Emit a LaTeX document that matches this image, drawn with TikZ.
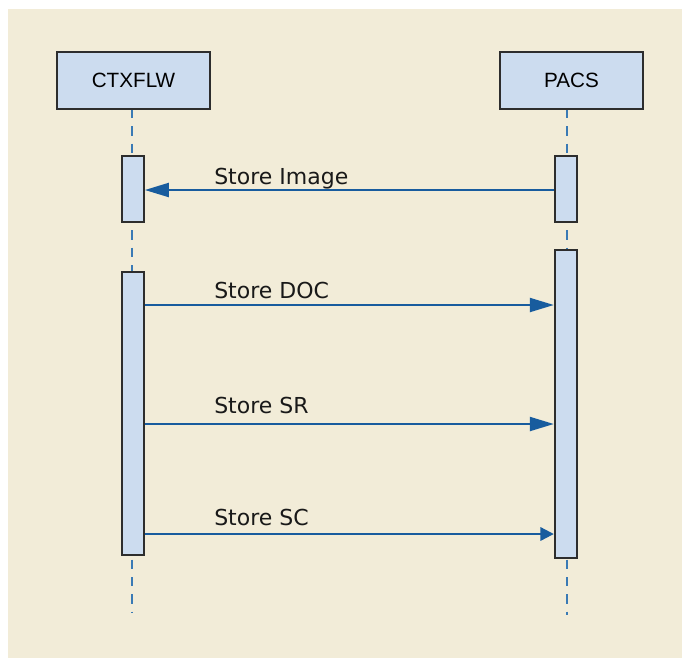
\documentclass[tikz,border=0pt]{standalone}
\usepackage{fontspec}
\setmainfont{DejaVu Sans}
\newfontfamily\boxfont{Liberation Sans}
\usetikzlibrary{arrows.meta}

\definecolor{bgbeige}{RGB}{242,236,216}
\definecolor{barblue}{RGB}{204,220,239}
\definecolor{msgblue}{RGB}{24,92,158}
\definecolor{lifeblue}{RGB}{58,122,181}
\definecolor{edgegray}{RGB}{45,45,45}

\tikzset{
	actor/.style={draw=edgegray, line width=1.5pt, fill=barblue, minimum height=42.75pt, inner sep=0pt, font=\boxfont\fontsize{15.5}{18}\selectfont},
	bar/.style={draw=edgegray, line width=1.3pt, fill=barblue, minimum width=16.5pt, inner sep=0pt},
	lifeline/.style={draw=lifeblue, line width=1.2pt, dash pattern=on 7pt off 6pt},
	msg/.style={draw=msgblue, line width=1.6pt, -{Triangle[length=18pt,width=10.5pt]}},
	msgsmall/.style={draw=msgblue, line width=1.6pt, -{Triangle[length=10pt,width=10pt]}},
	msglabel/.style={anchor=base west, inner sep=0pt, font=\fontsize{16.5}{19}\selectfont, text=black!90}
}

\begin{document}
\begin{tikzpicture}[x=0.75pt,y=0.75pt,yscale=-1,xscale=1]
	\useasboundingbox (0,0) rectangle (682,658);
	%background
	\fill [bgbeige] (8,9) rectangle (682,658);

	%lifelines
	\draw [lifeline] (132,109) -- (132,612);
	\draw [lifeline] (567,109) -- (567,615);

	%actors
	\node [actor, minimum width=114.75pt] (ctx) at (133.5,80.5) {CTXFLW\hspace{14pt}};
	\node [actor, minimum width=107.25pt] (pacs) at (571.5,80.5) {PACS\hspace{8pt}};

	%activation bars
	\node [bar, minimum height=49.5pt] (ctxA) at (133,189) {};
	\node [bar, minimum height=49.5pt] (pacsA) at (566,189) {};
	\node [bar, minimum height=212.25pt] (ctxB) at (133,413.5) {};
	\node [bar, minimum height=231pt, line width=1.8pt] (pacsB) at (566,404) {};

	%message ends
	\coordinate (img) at (pacsA.west |- 0,190);
	\coordinate (doc) at (ctxB.east |- 0,305);
	\coordinate (sr) at (ctxB.east |- 0,424);
	\coordinate (sc) at (ctxB.east |- 0,534);

	%messages
	\draw [msg] (img) -- (ctxA.east |- img);
	\draw [msg] (doc) -- (pacsB.west |- doc);
	\draw [msg] (sr) -- (pacsB.west |- sr);
	\draw [msgsmall] (sc) -- (pacsB.west |- sc);

	% Text Node
	\node [msglabel] (imgL) at (214,184) {Store Image};
	% Text Node
	\node [msglabel] (docL) at (214,298) {Store DOC};
	% Text Node
	\node [msglabel] (srL) at (214,413) {Store SR};
	% Text Node
	\node [msglabel] (scL) at (214,525) {Store SC};
\end{tikzpicture}
\end{document}
